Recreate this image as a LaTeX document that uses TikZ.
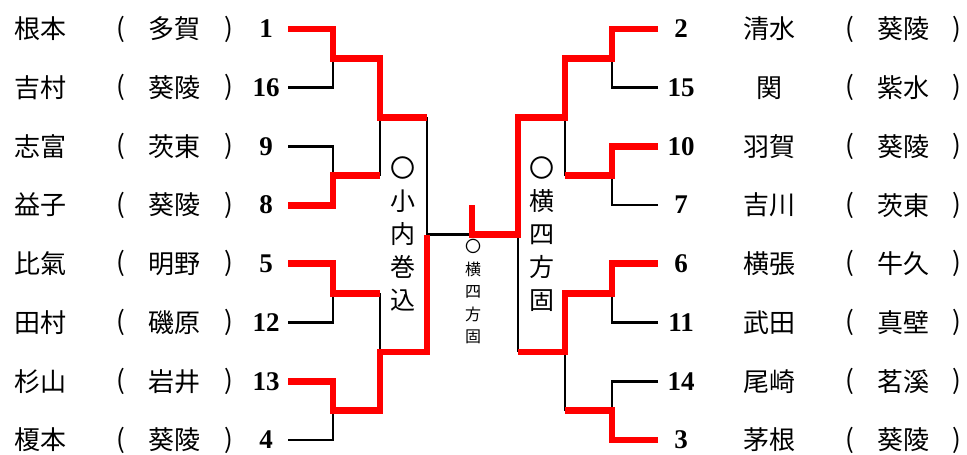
\documentclass[tikz,border=0pt]{standalone}
\usepackage{fontspec}
\setmainfont{Liberation Serif}
\newfontfamily\jp{Noto Sans CJK JP}
\usetikzlibrary{positioning}

\tikzset{
  lose/.style={line width=2.6pt, black},
  win/.style={line width=6.8pt, red, line join=miter},
  seed/.style={font=\fontsize{27}{27}\selectfont\bfseries, inner sep=0pt},
  jname/.style={font=\jp\fontsize{26}{26}\selectfont, inner sep=0pt},
  paren/.style={font=\jp\fontsize{26}{26}\selectfont\addfontfeature{Weight=Light}, inner sep=0pt},
  waza/.style={font=\jp\fontsize{25}{33}\selectfont, align=center, inner sep=0pt},
  smallwaza/.style={font=\jp\fontsize{16}{22.5}\selectfont, align=center, inner sep=0pt},
}

\begin{document}
\begin{tikzpicture}[x=1pt, y=-1pt]
    \useasboundingbox (0,0) rectangle (967,455);

    % left side
    \foreach \i/\nm/\sch/\s in {1/根本/多賀/1, 2/吉村/葵陵/16, 3/志富/茨東/9, 4/益子/葵陵/8,
                                5/比氣/明野/5, 6/田村/磯原/12, 7/杉山/岩井/13, 8/榎本/葵陵/4} {
        \pgfmathsetmacro{\yy}{29+58.71*(\i-1)}
        \node[jname] (lname\i) at (40,\yy) {\nm};
        \node[paren] (lopen\i) at (121,\yy) {(};
        \node[jname] (lschool\i) at (174,\yy) {\sch};
        \node[paren] (lclose\i) at (229,\yy) {)};
        \node[seed] (lseed\i) at (266,\yy) {\s};
        \coordinate (L\i) at (288,\yy);
    }

    % right side
    \foreach \i/\nm/\sch/\s in {1/清水/葵陵/2, 2/関/紫水/15, 3/羽賀/葵陵/10, 4/吉川/茨東/7,
                                5/横張/牛久/6, 6/武田/真壁/11, 7/尾崎/茗溪/14, 8/茅根/葵陵/3} {
        \pgfmathsetmacro{\yy}{29+58.71*(\i-1)}
        \node[seed] (rseed\i) at (681,\yy) {\s};
        \node[jname] (rname\i) at (769,\yy) {\nm};
        \node[paren] (ropen\i) at (850,\yy) {(};
        \node[jname] (rschool\i) at (903,\yy) {\sch};
        \node[paren] (rclose\i) at (957,\yy) {)};
        \coordinate (R\i) at (658,\yy);
    }

    % junctions
    \coordinate (la1) at (333,58.4);  \coordinate (la2) at (333,175.8);
    \coordinate (la3) at (333,293.2); \coordinate (la4) at (333,410.6);
    \coordinate (lb1) at (380,117.1); \coordinate (lb2) at (380,351.9);
    \coordinate (ra1) at (612,58.4);  \coordinate (ra2) at (612,175.8);
    \coordinate (ra3) at (612,293.2); \coordinate (ra4) at (612,410.6);
    \coordinate (rb1) at (565,117.1); \coordinate (rb2) at (565,351.9);
    \coordinate (lsemi) at (427,234.5);
    \coordinate (rsemi) at (518,234.5);
    \coordinate (top) at (472,205);

    % losers
    \draw[lose] (L2) -| (la1);
    \draw[lose] (L3) -| (la2);
    \draw[lose] (L6) -| (la3);
    \draw[lose] (L8) -| (la4);
    \draw[lose] (lb1 |- la2) -- (lb1);
    \draw[lose] (lb2 |- la3) -- (lb2);
    \draw[lose] (lsemi |- lb1) -- (lsemi) -- (top |- lsemi);
    \draw[lose] (R2) -| (ra1);
    \draw[lose] (R4) -| (ra2);
    \draw[lose] (R6) -| (ra3);
    \draw[lose] (R7) -| (ra4);
    \draw[lose] (rb1 |- ra2) -- (rb1);
    \draw[lose] (rb2 |- ra4) -- (rb2);
    \draw[lose] (rsemi |- rb2) -- (rsemi);

    % winners
    \draw[win] (L1) -| (la1) -| (lb1) -- (lsemi |- lb1);
    \draw[win] (L4) -| (la2) -- (lb1 |- la2);
    \draw[win] (L5) -| (la3) -- (lb2 |- la3);
    \draw[win] (L7) -| (la4) -| (lb2) -| (lsemi);
    \draw[win] (R1) -| (ra1) -| (rb1) -| (rsemi) -| (top);
    \draw[win] (R3) -| (ra2) -- (rb1 |- ra2);
    \draw[win] (R5) -| (ra3) -| (rb2) -- (rsemi |- rb2);
    \draw[win] (R8) -| (ra4) -- (rb2 |- ra4);

    % techniques
    \node[waza] (lwaza) at (403,234) {〇\\小\\内\\巻\\込};
    \node[waza] (rwaza) at (542,234) {〇\\横\\四\\方\\固};
    \node[smallwaza] (fwaza) at (473,292) {〇\\横\\四\\方\\固};
\end{tikzpicture}
\end{document}
